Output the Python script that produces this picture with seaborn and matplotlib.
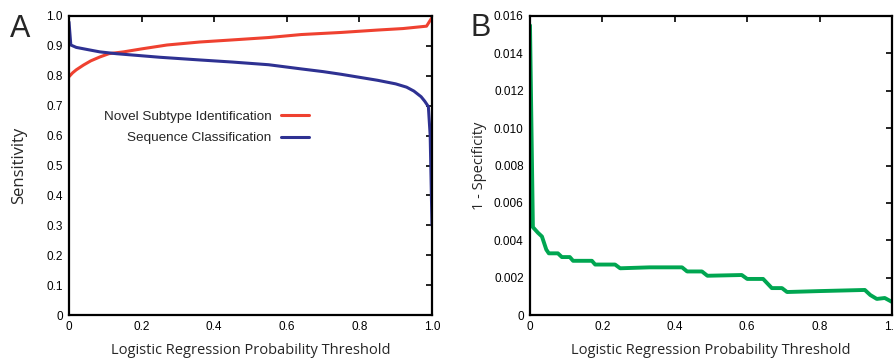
import matplotlib
matplotlib.use("Agg")
import matplotlib.pyplot as plt
import pandas as pd
import seaborn as sns

# Panel A: sensitivity vs threshold
novel_x = [0, 0.01, 0.02, 0.04, 0.06, 0.085, 0.11, 0.15, 0.2, 0.27, 0.36, 0.45,
           0.55, 0.64, 0.75, 0.85, 0.92, 0.985, 1.0]
novel_y = [0.797, 0.81, 0.82, 0.836, 0.85, 0.863, 0.874, 0.88, 0.89, 0.903, 0.913,
           0.92, 0.928, 0.938, 0.945, 0.953, 0.958, 0.966, 0.995]

seq_x = [0, 0.005, 0.02, 0.05, 0.085, 0.13, 0.18, 0.25, 0.36, 0.45, 0.55, 0.64,
         0.70, 0.75, 0.80, 0.85, 0.90, 0.93, 0.95, 0.97, 0.98, 0.99, 0.995, 1.0]
seq_y = [0.98, 0.903, 0.895, 0.888, 0.88, 0.874, 0.869, 0.862, 0.853, 0.846, 0.837,
         0.823, 0.814, 0.805, 0.795, 0.785, 0.773, 0.762, 0.749, 0.73, 0.715, 0.697,
         0.60, 0.30]

# Panel B: 1 - specificity vs threshold
spec_x = [0, 0.008, 0.022, 0.033, 0.045, 0.052, 0.077, 0.088, 0.11, 0.119, 0.171,
          0.18, 0.235, 0.249, 0.33, 0.42, 0.434, 0.475, 0.49, 0.585, 0.6, 0.644,
          0.668, 0.696, 0.71, 0.80, 0.925, 0.94, 0.958, 0.98, 1.0]
spec_y = [0.0155, 0.0047, 0.0044, 0.0042, 0.0035, 0.0033, 0.0033, 0.0031, 0.0031,
          0.0029, 0.0029, 0.0027, 0.0027, 0.0025, 0.00255, 0.00255, 0.00233, 0.00233,
          0.0021, 0.00214, 0.00193, 0.00193, 0.00144, 0.00144, 0.00123, 0.00128,
          0.00134, 0.00107, 0.00086, 0.00091, 0.0007]

x_ticks = [0, 0.2, 0.4, 0.6, 0.8, 1.0]
x_labels = ["0", "0.2", "0.4", "0.6", "0.8", "1.0"]
a_yticks = [0, 0.1, 0.2, 0.3, 0.4, 0.5, 0.6, 0.7, 0.8, 0.9, 1.0]
a_ylabels = ["0", "0.1", "0.2", "0.3", "0.4", "0.5", "0.6", "0.7", "0.8", "0.9", "1.0"]
b_yticks = [0, 0.002, 0.004, 0.006, 0.008, 0.010, 0.012, 0.014, 0.016]
b_ylabels = ["0", "0.002", "0.004", "0.006", "0.008", "0.010", "0.012", "0.014", "0.016"]

RED = "#ef4130"
BLUE = "#2e3192"
GREEN = "#00a651"

sns.set_style("white")
plt.rcParams["font.family"] = ["Liberation Sans", "DejaVu Sans"]

fig = plt.figure(figsize=(8.94, 3.6), dpi=100)
ax_a = fig.add_axes([69 / 894, 45 / 360, 363 / 894, 299 / 360])
ax_b = fig.add_axes([530 / 894, 45 / 360, 362 / 894, 299 / 360])

df_novel = pd.DataFrame({"x": novel_x, "y": novel_y})
df_seq = pd.DataFrame({"x": seq_x, "y": seq_y})
df_spec = pd.DataFrame({"x": spec_x, "y": spec_y})

sns.lineplot(data=df_novel, x="x", y="y", ax=ax_a, color=RED, lw=2.2,
             label="Novel Subtype Identification", estimator=None, sort=False)
sns.lineplot(data=df_seq, x="x", y="y", ax=ax_a, color=BLUE, lw=2.2,
             label="Sequence Classification", estimator=None, sort=False)
sns.lineplot(data=df_spec, x="x", y="y", ax=ax_b, color=GREEN, lw=2.8,
             legend=False, estimator=None, sort=False)

label_font = dict(family=["Open Sans", "DejaVu Sans"], fontsize=10.5)

for ax, yt, yl, ylim, ylab, ysize, ypad in [
    (ax_a, a_yticks, a_ylabels, (0, 1.0), "Sensitivity", 12, 14),
    (ax_b, b_yticks, b_ylabels, (0, 0.016), "1 - Specificity", 10.5, 5),
]:
    ax.set_xlim(0, 1.0)
    ax.set_ylim(*ylim)
    ax.set_xticks(x_ticks)
    ax.set_xticklabels(x_labels)
    ax.set_yticks(yt)
    ax.set_yticklabels(yl)
    ax.tick_params(direction="in", length=4, width=1.2, top=True, right=True,
                   labelsize=8.5, colors="black", pad=4.5)
    for s in ax.spines.values():
        s.set_linewidth(1.6)
        s.set_color("black")
    ax.set_xlabel("Logistic Regression Probability Threshold", labelpad=7, **label_font)
    ax.set_ylabel(ylab, labelpad=ypad, family=["Open Sans", "DejaVu Sans"],
                  fontsize=ysize)

leg = ax_a.legend(loc="center right", bbox_to_anchor=((309 - 69) / 363, 0.628),
                  frameon=False, markerfirst=False, fontsize=9.7,
                  handlelength=2.1, handletextpad=0.7, labelspacing=0.68,
                  borderpad=0, borderaxespad=0)
for t in leg.get_texts():
    t.set_ha("right")
leg._legend_box.align = "right"

fig.text(10 / 894, 1 - 37 / 360, "A", fontsize=22, va="baseline", ha="left")
fig.text(470 / 894, 1 - 36 / 360, "B", fontsize=22, va="baseline", ha="left")

fig.savefig("out.png", dpi=100)
